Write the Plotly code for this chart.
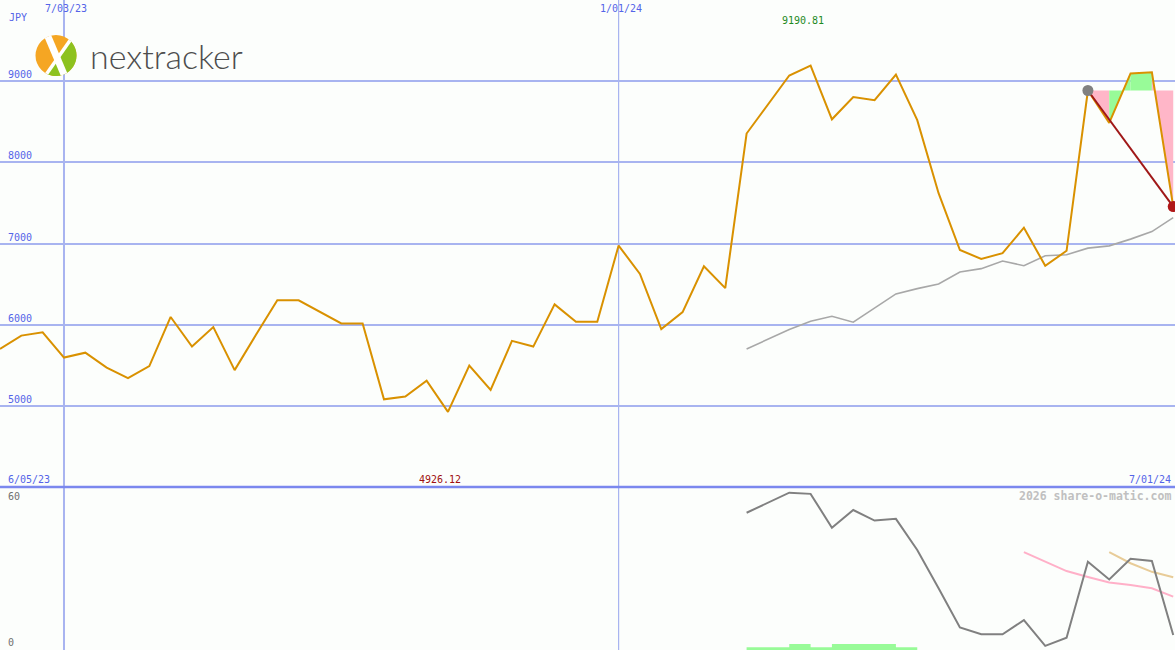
import numpy as np
import pandas as pd
import plotly.graph_objects as go

# ---------------- data ----------------
start_date = "2023-06-12"
price = [5700, 5865, 5905, 5595, 5655, 5470, 5340, 5490, 6095, 5730,
         5970, 5440, 5875, 6300, 6300, 6155, 6015, 6015, 5080, 5115,
         5310, 4926.12, 5495, 5195, 5800, 5730, 6250, 6035, 6035, 6975,
         6625, 5945, 6155, 6720, 6450, 8355, 8720, 9070, 9190.81, 8530,
         8805, 8765, 9080, 8520, 7620, 6920, 6810, 6880, 7195, 6725,
         6910, 8885, 8485, 9095, 9110, 7455]
ma_start = 35
moving_avg = [5700, 5818, 5941, 6043, 6104, 6031, 6207, 6379, 6444, 6502,
              6649, 6690, 6784, 6726, 6849, 6861, 6943, 6971, 7054, 7147, 7319]
osc_start = 35
oscillator = [55.2, 59.3, 63.4, 62.9, 49.1, 56.3, 52.0, 52.7, 40.0, 24.4,
              8.4, 5.6, 5.6, 11.4, 0.9, 4.2, 35.2, 28.0, 36.4, 35.5, 5.3]
pink_start = 48
osc_pink = [39.1, 35.1, 31.4, 29.0, 26.7, 25.7, 24.4, 21.0]
tan_start = 52
osc_tan = [39.1, 34.6, 31.1, 28.9]
bar_start = 35
bar_vals = [0.3, 0.3, 1.6, 0.3, 1.6, 1.6, 1.6, 0.3, 0.3]
trend_from = 51
trend_to = 55
price_ticks = [5000, 6000, 7000, 8000, 9000]
osc_ticks = [0, 60]
date_marks = ["2023-07-03", "2024-01-01"]
date_labels = ["7/03/23", "1/01/24"]
max_label = "9190.81"
min_label = "4926.12"

# ---------------- styling ----------------
W, H = 1175, 650
BG = "#fcfefc"
BLUE_TXT = "#5464e8"
GRID = "#a8b4f0"
ORANGE = "#d99100"
MONO = "DejaVu Sans Mono"

dates = pd.date_range(start_date, periods=len(price), freq="7D")
split = 1 - 487 / H


def px(x):
    return x / W


def py(y):
    return 1 - y / H


fig = go.Figure()

# segment fills from trend start level
level = price[trend_from]
for i in range(trend_from, trend_to):
    col = "#98fb98" if price[i + 1] >= price[i] else "#ffb6c8"
    fig.add_trace(go.Scatter(
        x=[dates[i], dates[i], dates[i + 1], dates[i + 1]],
        y=[level, price[i], price[i + 1], level],
        fill="toself", fillcolor=col, mode="none", hoverinfo="skip",
        showlegend=False, xaxis="x", yaxis="y"))

# moving average
fig.add_trace(go.Scatter(x=dates[ma_start:], y=moving_avg, mode="lines",
                         line=dict(color="#a8a8a8", width=1.6),
                         showlegend=False, xaxis="x", yaxis="y"))
# price
fig.add_trace(go.Scatter(x=dates, y=price, mode="lines",
                         line=dict(color=ORANGE, width=2),
                         showlegend=False, xaxis="x", yaxis="y"))
# trend line
fig.add_trace(go.Scatter(x=[dates[trend_from], dates[trend_to]],
                         y=[price[trend_from], price[trend_to]], mode="lines",
                         line=dict(color="#a01818", width=2),
                         showlegend=False, xaxis="x", yaxis="y"))
fig.add_trace(go.Scatter(x=[dates[trend_from]], y=[price[trend_from]], mode="markers",
                         marker=dict(color="#808080", size=11),
                         showlegend=False, xaxis="x", yaxis="y"))
fig.add_trace(go.Scatter(x=[dates[trend_to]], y=[price[trend_to]], mode="markers",
                         marker=dict(color="#b01818", size=11),
                         showlegend=False, xaxis="x", yaxis="y"))

# lower panel bars (step)
bx = dates[bar_start:bar_start + len(bar_vals)]
fig.add_trace(go.Scatter(x=bx, y=[-1.5] * len(bar_vals), mode="lines",
                         line=dict(width=0), showlegend=False, hoverinfo="skip",
                         xaxis="x2", yaxis="y2"))
fig.add_trace(go.Scatter(x=bx, y=bar_vals, mode="lines", line_shape="hv",
                         line=dict(width=0, color="#98fb98"), fill="tonexty",
                         fillcolor="#98fb98", showlegend=False,
                         xaxis="x2", yaxis="y2"))
fig.add_trace(go.Scatter(x=dates[pink_start:], y=osc_pink, mode="lines",
                         line=dict(color="#ffb0c8", width=2),
                         showlegend=False, xaxis="x2", yaxis="y2"))
fig.add_trace(go.Scatter(x=dates[tan_start:], y=osc_tan, mode="lines",
                         line=dict(color="#e8cc98", width=2),
                         showlegend=False, xaxis="x2", yaxis="y2"))
fig.add_trace(go.Scatter(x=dates[osc_start:], y=oscillator, mode="lines",
                         line=dict(color="#808080", width=2),
                         showlegend=False, xaxis="x2", yaxis="y2"))

x_end = dates[-1] + pd.Timedelta(hours=14)
xr = [dates[0], x_end]
common_x = dict(range=xr, showgrid=False, showticklabels=False, zeroline=False,
                showline=False, ticks="", type="date")

fig.update_layout(
    width=W, height=H, autosize=False,
    margin=dict(l=0, r=0, t=0, b=0),
    paper_bgcolor=BG, plot_bgcolor=BG,
    xaxis=dict(**common_x, domain=[0, 1], anchor="y"),
    xaxis2=dict(**common_x, domain=[0, 1], anchor="y2", matches="x"),
    yaxis=dict(domain=[split, 1], range=[4000, 10000], tickvals=price_ticks,
               showgrid=True, gridcolor=GRID, gridwidth=2, showticklabels=False,
               zeroline=False, ticks=""),
    yaxis2=dict(domain=[0, split], range=[-0.8, 65.7], showgrid=False,
                showticklabels=False, zeroline=False, ticks=""),
    showlegend=False,
)

shapes = []
for d, w in zip(date_marks, [2, 1.2]):
    shapes.append(dict(type="line", xref="x", yref="paper", x0=d, x1=d, y0=0, y1=1,
                       line=dict(color=GRID, width=w), layer="below"))
shapes.append(dict(type="line", xref="paper", yref="paper", x0=0, x1=1,
                   y0=split, y1=split, line=dict(color="#7b88ee", width=2.5)))

# logo
cx, cy, r = 56, 55.5, 20.5
shapes.append(dict(type="circle", xref="paper", yref="paper",
                   x0=px(cx - r), x1=px(cx + r), y0=py(cy + r), y1=py(cy - r),
                   fillcolor="#f5a623", line=dict(width=0)))
angs = np.deg2rad(np.linspace(47, -117, 40))
pts = [(cx + r * np.cos(a), cy - r * np.sin(a)) for a in angs]
path = "M {:.5f},{:.5f} ".format(px(cx + 1), py(cy + 1)) + " ".join(
    "L {:.5f},{:.5f}".format(px(x), py(y)) for x, y in pts) + " Z"
shapes.append(dict(type="path", xref="paper", yref="paper", path=path,
                   fillcolor="#8dc21f", line=dict(width=0)))
for (a1, a2, w) in [(113, -67, 7), (47, -117, 3.5)]:
    p1 = (cx + r * np.cos(np.deg2rad(a1)), cy - r * np.sin(np.deg2rad(a1)))
    p2 = (cx + r * np.cos(np.deg2rad(a2)), cy - r * np.sin(np.deg2rad(a2)))
    shapes.append(dict(type="line", xref="paper", yref="paper",
                       x0=px(p1[0]), y0=py(p1[1]), x1=px(p2[0]), y1=py(p2[1]),
                       line=dict(color="white", width=w)))
fig.update_layout(shapes=shapes)

ann = []


def txt(text, x, y, xanchor="left", color=BLUE_TXT, size=10, xref="paper",
        yref="paper", yanchor="middle", xshift=0, bold=False):
    ann.append(dict(text=("<b>%s</b>" % text) if bold else text, x=x, y=y,
                    xref=xref, yref=yref, xanchor=xanchor, yanchor=yanchor,
                    showarrow=False, xshift=xshift,
                    font=dict(family=MONO, size=size, color=color)))


txt("JPY", px(7), py(18))
for v in price_ticks:
    ann.append(dict(text=str(v), x=px(6), y=v, xref="paper", yref="y",
                    xanchor="left", yanchor="bottom", showarrow=False, yshift=-1,
                    font=dict(family=MONO, size=10, color=BLUE_TXT)))
for d, lab in zip(date_marks, date_labels):
    txt(lab, d, py(8), xanchor="center", xref="x", xshift=2)
imax = int(np.argmax(price))
imin = int(np.argmin(price))
txt(max_label, dates[imax], py(21), xanchor="center", xref="x",
    color="#1f8a1f", xshift=-8)
txt(min_label, dates[imin], py(479), xanchor="center", xref="x",
    color="#a01010", xshift=-8)
txt("6/05/23", px(6), py(479))
txt("7/01/24", px(1173), py(479), xanchor="right")
txt("2026 share-o-matic.com", px(1173), py(496), xanchor="right",
    color="#c0c0c0", size=11.5, bold=True)
txt(str(osc_ticks[1]), px(6), py(496), color="#707070")
txt(str(osc_ticks[0]), px(6), py(642), color="#707070")

ann.append(dict(text="nextracker", x=px(88), y=py(56), xref="paper", yref="paper",
                xanchor="left", yanchor="middle", showarrow=False,
                font=dict(family="Lato", size=34, color="#4d4d4d", weight=300)))
fig.update_layout(annotations=ann)

fig.write_html("out.html", config={"displayModeBar": False},
               post_script="document.body.style.margin='0';document.body.style.padding='0';")
